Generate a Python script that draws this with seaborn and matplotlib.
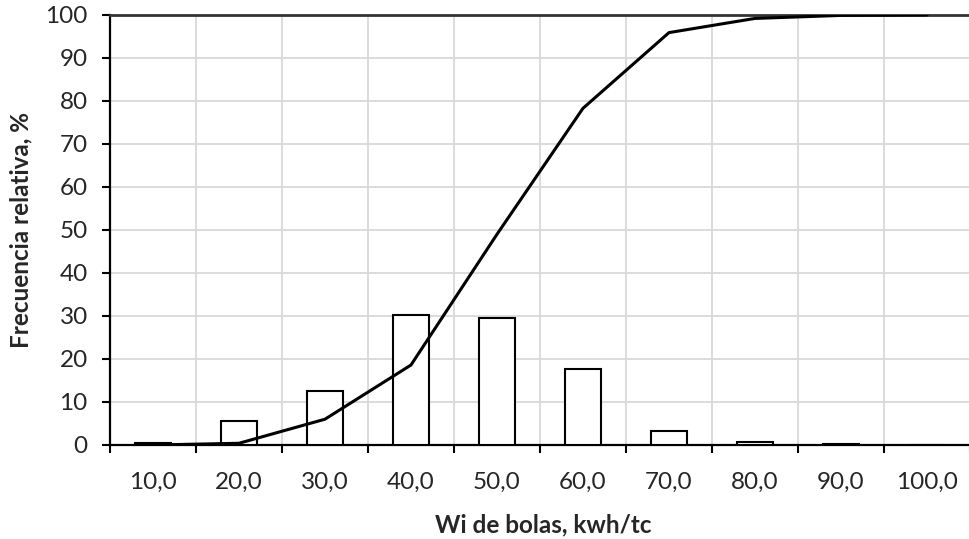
import numpy as np
import pandas as pd
import matplotlib
matplotlib.use("Agg")
import matplotlib.pyplot as plt
import seaborn as sns

# Work index classes (kwh/tc) and relative frequency per class, %
clases = ["10,0", "20,0", "30,0", "40,0", "50,0", "60,0", "70,0", "80,0", "90,0", "100,0"]
frecuencia = [0.35, 5.65, 12.6, 30.3, 29.5, 17.6, 3.3, 0.7, 0.2, 0.0]
# Cumulative relative frequency, %
acumulada = [0.0, 0.4, 6.0, 18.6, 49.0, 78.3, 95.9, 99.2, 99.9, 100.0]
y_ticks = [0, 10, 20, 30, 40, 50, 60, 70, 80, 90, 100]

sns.set_theme(style="white")
plt.rcParams["font.family"] = ["Lato", "DejaVu Sans"]

df = pd.DataFrame({"clase": clases, "frecuencia": frecuencia, "acumulada": acumulada})
df["pos"] = np.arange(len(df))

fig = plt.figure(figsize=(9.69, 5.39), dpi=100)
ax = fig.add_axes([0.1135, 0.1744, 0.8875, 0.7978])

sns.barplot(data=df, x="clase", y="frecuencia", order=clases, color="white",
            edgecolor="black", linewidth=1.5, width=0.41, ax=ax, zorder=3)
sns.lineplot(data=df, x="pos", y="acumulada", color="black", linewidth=2.2,
             ax=ax, zorder=4)

ax.set_xlim(-0.5, len(clases) - 0.5)
ax.set_ylim(0, 100)

# Ticks at class boundaries, labels at class centres
bordes = np.arange(len(clases) + 1) - 0.5
ax.set_xticks(bordes)
ax.set_xticklabels([])
ax.set_xticks(np.arange(len(clases)), minor=True)
ax.set_xticklabels(clases, minor=True, fontsize=17.5)
ax.tick_params(axis="x", which="major", direction="out", length=6, width=1.5,
               color="black", bottom=True)
ax.tick_params(axis="x", which="minor", length=0, pad=19, bottom=True)

ax.set_yticks(y_ticks)
ax.set_yticklabels([str(v) for v in y_ticks], fontsize=17.5)
ax.tick_params(axis="y", direction="out", length=6, width=1.5, color="black",
               left=True, pad=10)

ax.grid(True, which="major", color="#d9d9d9", linewidth=1.3, zorder=0)
ax.set_axisbelow(True)

for side in ["left", "bottom"]:
    ax.spines[side].set_color("black")
    ax.spines[side].set_linewidth(1.6)
ax.spines["top"].set_color("#333333")
ax.spines["top"].set_linewidth(2.0)
ax.spines["right"].set_visible(False)

ax.set_xlabel("Wi de bolas, kwh/tc", fontsize=17.5, fontweight="bold")
ax.set_ylabel("Frecuencia relativa, %", fontsize=17.5, fontweight="bold")
ax.xaxis.set_label_coords(0.5035, -0.158)
ax.yaxis.set_label_coords(-0.09, 0.5)

fig.savefig("out.png", dpi=100)
